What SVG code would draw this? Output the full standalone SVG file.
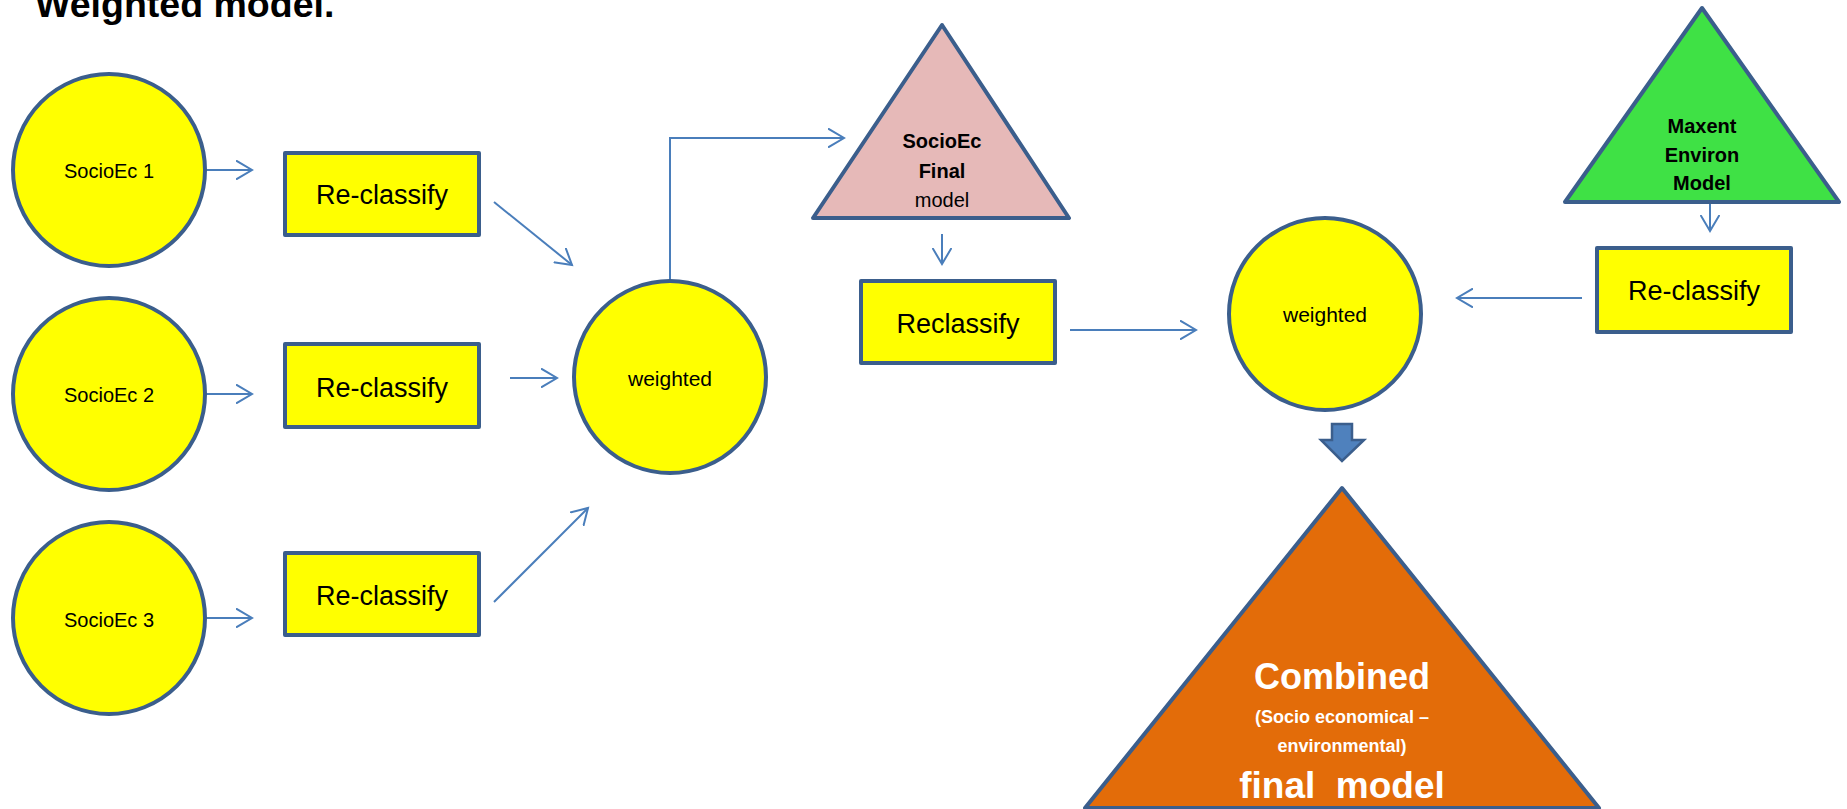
<svg xmlns="http://www.w3.org/2000/svg" width="1847" height="809" viewBox="0 0 1847 809">
<style>
.node{stroke:#3B5E8C;stroke-width:4;stroke-linejoin:round}
.yel{fill:#FFFF00}
.con{fill:none;stroke:#4A7EBB;stroke-width:2}
.t{font-family:"Liberation Sans",Arial,sans-serif;fill:#000;text-anchor:middle}
.s{font-size:20px}
.w{font-size:21px}
.r{font-size:27px}
.b{font-weight:bold}
.wt{fill:#FFFFFF}
</style>
<defs>
<marker id="ah" markerWidth="20" markerHeight="20" viewBox="-16 -10 20 20" refX="0" refY="0" orient="auto" markerUnits="userSpaceOnUse">
<path d="M-16,-9.5 L0,0 L-16,9.5" fill="none" stroke="#4A7EBB" stroke-width="2"/>
</marker>
</defs>
<rect width="1847" height="809" fill="#FFFFFF"/>
<text class="t b" x="35" y="17" style="font-size:37.5px;text-anchor:start">Weighted model.</text>

<g id="connectors">
<line class="con" x1="206" y1="170" x2="252" y2="170" marker-end="url(#ah)"/>
<line class="con" x1="206" y1="394" x2="252" y2="394" marker-end="url(#ah)"/>
<line class="con" x1="206" y1="618" x2="252" y2="618" marker-end="url(#ah)"/>
<line class="con" x1="494" y1="202" x2="572" y2="265" marker-end="url(#ah)"/>
<line class="con" x1="510" y1="378" x2="557" y2="378" marker-end="url(#ah)"/>
<line class="con" x1="494" y1="602" x2="588" y2="508" marker-end="url(#ah)"/>
<polyline class="con" points="670,280 670,138 844,138" marker-end="url(#ah)"/>
<line class="con" x1="942" y1="234" x2="942" y2="264" marker-end="url(#ah)"/>
<line class="con" x1="1070" y1="330" x2="1196" y2="330" marker-end="url(#ah)"/>
<line class="con" x1="1710" y1="202" x2="1710" y2="231" marker-end="url(#ah)"/>
<line class="con" x1="1582" y1="298" x2="1457" y2="298" marker-end="url(#ah)"/>
<polygon points="1332,424 1352,424 1352,440 1364,440 1342,461 1321,440 1332,440" fill="#4F81BD" stroke="#3B5E8C" stroke-width="2.5" stroke-linejoin="miter"/>
</g>

<g id="socioec1">
<circle class="node yel" cx="109" cy="170" r="96"/>
<text class="t s" x="109" y="178">SocioEc 1</text>
</g>
<g id="socioec2">
<circle class="node yel" cx="109" cy="394" r="96"/>
<text class="t s" x="109" y="402">SocioEc 2</text>
</g>
<g id="socioec3">
<circle class="node yel" cx="109" cy="618" r="96"/>
<text class="t s" x="109" y="627">SocioEc 3</text>
</g>

<g id="reclassify1">
<rect class="node yel" x="285" y="153" width="194" height="82"/>
<text class="t r" x="382" y="204">Re-classify</text>
</g>
<g id="reclassify2">
<rect class="node yel" x="285" y="344" width="194" height="83"/>
<text class="t r" x="382" y="397">Re-classify</text>
</g>
<g id="reclassify3">
<rect class="node yel" x="285" y="553" width="194" height="82"/>
<text class="t r" x="382" y="605">Re-classify</text>
</g>

<g id="weighted1">
<circle class="node yel" cx="670" cy="377" r="96"/>
<text class="t w" x="670" y="386">weighted</text>
</g>

<g id="socioec-final">
<polygon class="node" points="942,25 1069,218 813,218" fill="#E6B9B8"/>
<text class="t s b" x="942" y="148">SocioEc</text>
<text class="t s b" x="942" y="178">Final</text>
<text class="t s" x="942" y="207">model</text>
</g>

<g id="reclassify-socio">
<rect class="node yel" x="861" y="281" width="194" height="82"/>
<text class="t r" x="958" y="333">Reclassify</text>
</g>

<g id="maxent">
<polygon class="node" points="1702,8 1839,202 1565,202" fill="#3FE145"/>
<text class="t s b" x="1702" y="133">Maxent</text>
<text class="t s b" x="1702" y="162">Environ</text>
<text class="t s b" x="1702" y="190">Model</text>
</g>

<g id="reclassify-env">
<rect class="node yel" x="1597" y="248" width="194" height="84"/>
<text class="t r" x="1694" y="300">Re-classify</text>
</g>

<g id="weighted2">
<circle class="node yel" cx="1325" cy="314" r="96"/>
<text class="t w" x="1325" y="322">weighted</text>
</g>

<g id="combined">
<polygon class="node" points="1342,488 1599,808 1085,808" fill="#E36C09"/>
<text class="t b wt" x="1342" y="689" style="font-size:36px">Combined</text>
<text class="t b wt" x="1342" y="723" style="font-size:18px">(Socio economical –</text>
<text class="t b wt" x="1342" y="752" style="font-size:18px">environmental)</text>
<text class="t b wt" x="1342" y="798" style="font-size:37px" xml:space="preserve">final  model</text>
</g>
</svg>
